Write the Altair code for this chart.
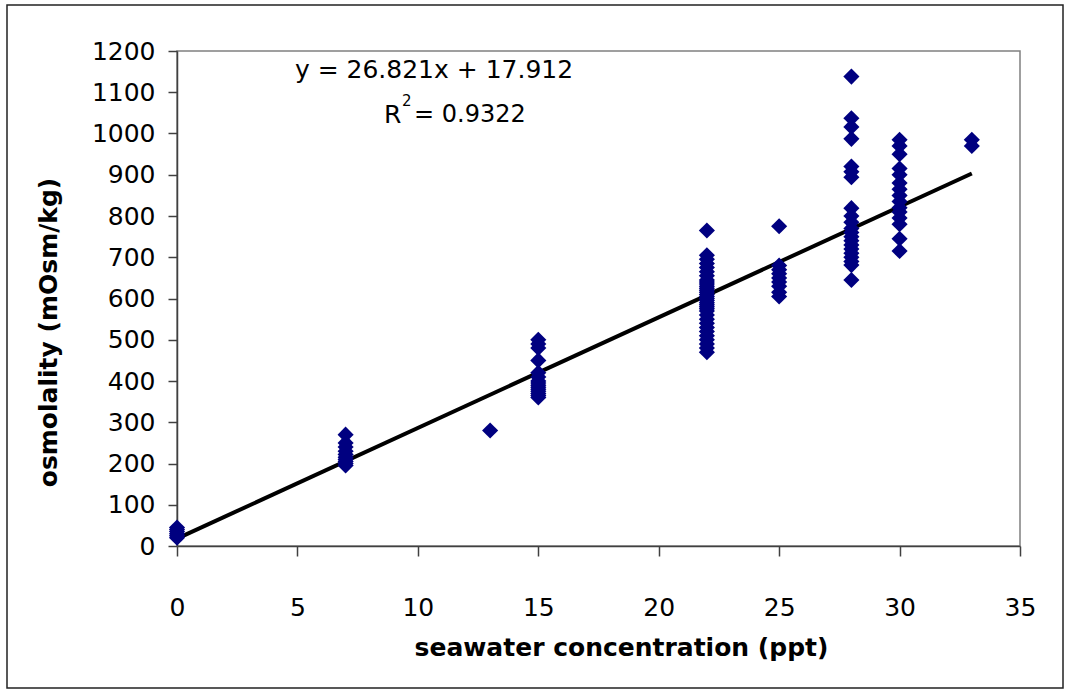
import altair as alt
import pandas as pd

# ---- data ----
salinity_0 = [0, 0, 0, 0, 0, 0]
osm_0 = [20, 25, 30, 35, 40, 45]
salinity_7 = [7] * 10
osm_7 = [270, 250, 240, 230, 222, 215, 210, 205, 200, 195]
salinity_13 = [13]
osm_13 = [280]
salinity_15 = [15] * 15
osm_15 = [500, 490, 480, 450, 420, 410, 400, 395, 390, 385, 380, 375, 370, 365, 360]
salinity_22 = [22] * 33
osm_22 = [765, 705, 695, 685, 675, 665, 655, 645, 640, 635, 630, 625, 620, 615, 610,
          605, 600, 595, 590, 585, 580, 575, 570, 560, 550, 540, 530, 520, 510, 500,
          490, 480, 470]
salinity_25 = [25] * 9
osm_25 = [775, 680, 670, 660, 650, 640, 630, 615, 605]
salinity_28 = [28] * 21
osm_28 = [1138, 1037, 1016, 987, 920, 907, 894, 819, 800, 785, 770, 760, 750, 740,
          730, 720, 710, 700, 690, 681, 645]
salinity_30 = [30] * 15
osm_30 = [985, 970, 950, 915, 900, 880, 865, 850, 835, 820, 810, 795, 780, 745, 715]
salinity_33 = [33, 33]
osm_33 = [985, 970]

trend_x = [0, 33]
trend_y = [17.9, 903.0]

equation_text = "y = 26.821x + 17.912"
r2_parts = ["R", "2", "= 0.9322"]

x_ticks = [0, 5, 10, 15, 20, 25, 30, 35]
y_ticks = [0, 100, 200, 300, 400, 500, 600, 700, 800, 900, 1000, 1100, 1200]

xs = (salinity_0 + salinity_7 + salinity_13 + salinity_15 + salinity_22 +
      salinity_25 + salinity_28 + salinity_30 + salinity_33)
ys = (osm_0 + osm_7 + osm_13 + osm_15 + osm_22 + osm_25 + osm_28 + osm_30 + osm_33)
points = pd.DataFrame({"salinity": xs, "osmolality": ys})
trend = pd.DataFrame({"salinity": trend_x, "osmolality": trend_y})

FONT = "DejaVu Sans"
FS = 25

xscale = alt.Scale(domain=[0, 35], nice=False, zero=False)
yscale = alt.Scale(domain=[0, 1200], nice=False)

xaxis = alt.Axis(
    title="seawater concentration (ppt)", values=x_ticks, grid=False, format="d",
    labelFont=FONT, labelFontSize=FS, labelColor="black", labelPadding=39,
    labelFlush=False, labelOverlap=False,
    tickSize=10, tickColor="#404040", tickWidth=1.5,
    domainColor="#404040", domainWidth=1.5,
    titleFont=FONT, titleFontSize=FS, titleFontWeight="bold", titleColor="black",
    titleX=444, titleY=101, titleBaseline="middle",
)
yaxis = alt.Axis(
    title="osmolality (mOsm/kg)", values=y_ticks, grid=False, format="d",
    labelFont=FONT, labelFontSize=FS, labelColor="black", labelPadding=13,
    labelOverlap=False,
    tickSize=9, tickColor="#404040", tickWidth=1.5,
    domainColor="#404040", domainWidth=1.5,
    titleFont=FONT, titleFontSize=FS, titleFontWeight="bold", titleColor="black",
    titleX=-129, titleY=281, titleBaseline="middle", titleAngle=-90,
)

pts = alt.Chart(points).mark_point(
    shape="diamond", filled=True, color="#000080", size=260, opacity=1
).encode(
    x=alt.X("salinity:Q", scale=xscale, axis=xaxis),
    y=alt.Y("osmolality:Q", scale=yscale, axis=yaxis),
)

line = alt.Chart(trend).mark_line(color="black", strokeWidth=4).encode(
    x=alt.X("salinity:Q", scale=xscale),
    y=alt.Y("osmolality:Q", scale=yscale),
)

eq = alt.Chart(pd.DataFrame({"t": [equation_text]})).mark_text(
    font=FONT, fontSize=FS, color="black", align="center", baseline="middle"
).encode(x=alt.value(257), y=alt.value(19), text="t:N")

r_txt = alt.Chart(pd.DataFrame({"t": [r2_parts[0]]})).mark_text(
    font=FONT, fontSize=FS, color="black", align="left", baseline="middle"
).encode(x=alt.value(207), y=alt.value(64), text="t:N")

sup_txt = alt.Chart(pd.DataFrame({"t": [r2_parts[1]]})).mark_text(
    font=FONT, fontSize=15, color="black", align="left", baseline="middle"
).encode(x=alt.value(225), y=alt.value(50), text="t:N")

rest_txt = alt.Chart(pd.DataFrame({"t": [r2_parts[2]]})).mark_text(
    font=FONT, fontSize=24, color="black", align="left", baseline="middle"
).encode(x=alt.value(237), y=alt.value(64), text="t:N")

frame = alt.Chart(pd.DataFrame({"a": [0]})).mark_rect(
    fill=None, filled=False, stroke="#222222", strokeWidth=1.5, clip=False
).encode(
    x=alt.value(-170), x2=alt.value(886), y=alt.value(-46), y2=alt.value(637)
)

chart = alt.layer(frame, line, pts, eq, r_txt, sup_txt, rest_txt).properties(
    width=843, height=495,
    autosize=alt.AutoSizeParams(type="none"),
    padding={"left": 177, "top": 51, "right": 53, "bottom": 145},
    background="white",
).configure_view(stroke="#808080", strokeWidth=1.5)

chart.save("out.html", embed_options={"renderer": "svg", "actions": False})
